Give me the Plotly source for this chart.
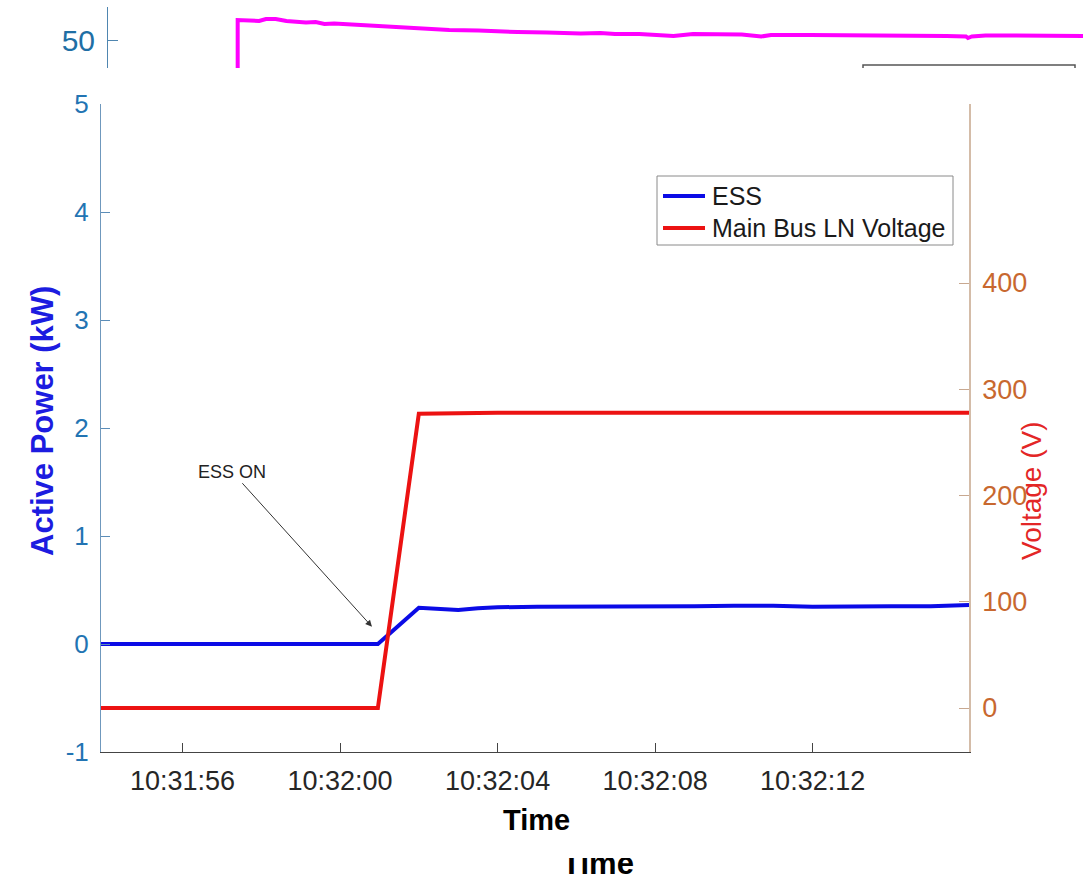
import plotly.graph_objects as go

DAY = "2023-01-01 "
W, H = 1083, 880

# ---------------- main chart data ----------------
ess_time = ["10:31:53.93", "10:32:00.96", "10:32:02.00", "10:32:03.00", "10:32:03.50",
            "10:32:04.00", "10:32:05.00", "10:32:06.00", "10:32:07.00", "10:32:08.00",
            "10:32:09.00", "10:32:10.00", "10:32:11.00", "10:32:12.00", "10:32:13.00",
            "10:32:14.00", "10:32:15.00", "10:32:15.97"]
ess_kw = [0.0, 0.0, 0.335, 0.315, 0.33, 0.34, 0.345, 0.345, 0.345, 0.35,
          0.35, 0.355, 0.355, 0.345, 0.35, 0.35, 0.35, 0.36]

volt_time = ["10:31:53.93", "10:32:00.96", "10:32:02.00", "10:32:04.00", "10:32:08.00",
             "10:32:12.00", "10:32:15.97"]
volt_v = [0.0, 0.0, 277.0, 278.0, 278.0, 278.0, 278.0]

series_names = ["ESS", "Main Bus LN Voltage"]
series_colors = ["#0b0be6", "#ec1212"]

x_ticks = ["10:31:56", "10:32:00", "10:32:04", "10:32:08", "10:32:12"]
y_left_ticks = [-1, 0, 1, 2, 3, 4, 5]
y_left_text = ["-1", "0", "1", "2", "3", "4", "5"]
y_right_ticks = [0, 100, 200, 300, 400]

annot_time = "10:32:00.81"
annot_kw = 0.16

# ---------------- inset (cropped top strip) data ----------------
inset_x = [0.0, 13.3, 13.3, 13.6, 14.5, 15.5, 16.2, 17.2, 18.3, 19.3, 20.3, 21.3,
           22.2, 23.2, 25.0, 26.0, 27.0, 29.0, 30.5, 32.0, 35.0, 38.0, 40.0, 42.0,
           45.0, 48.5, 50.5, 52.0, 54.5, 56.0, 58.0, 60.0, 62.0, 65.0, 67.0, 68.0,
           72.0, 75.0, 78.0, 82.0, 86.0, 88.0, 88.2, 88.6, 90.0, 93.0, 97.0, 100.0]
inset_val = [40.0, 40.0, 52.0, 52.0, 51.95, 51.9, 52.1, 52.1, 51.9, 51.8, 51.75, 51.8,
             51.6, 51.65, 51.55, 51.45, 51.35, 51.25, 51.15, 51.1, 51.0, 50.95, 50.85, 50.8,
             50.75, 50.65, 50.7, 50.6, 50.6, 50.55, 50.4, 50.6, 50.55, 50.55, 50.35, 50.5,
             50.5, 50.5, 50.45, 50.45, 50.4, 50.35, 50.2, 50.35, 50.45, 50.45, 50.45, 50.4]
inset_ticks = [50]

FONT = "Liberation Sans, Arial, sans-serif"


def px_x(p):
    return p / W


def px_y(p):
    return (H - p) / H


fig = go.Figure()

fig.add_trace(go.Scatter(x=[DAY + t for t in ess_time], y=ess_kw, name=series_names[0],
                         mode="lines", line=dict(color=series_colors[0], width=4),
                         xaxis="x", yaxis="y", showlegend=False))
fig.add_trace(go.Scatter(x=[DAY + t for t in volt_time], y=volt_v, name=series_names[1],
                         mode="lines", line=dict(color=series_colors[1], width=4),
                         xaxis="x", yaxis="y2", showlegend=False))

fig.add_trace(go.Scatter(x=inset_x, y=inset_val, mode="lines", showlegend=False,
                         line=dict(color="#ff00ff", width=4), xaxis="x2", yaxis="y3",
                         hoverinfo="skip"))

# clipped lower "Time" label from the underlying figure
fig.add_trace(go.Scatter(x=[598], y=[866], mode="text", text=["<b>Time</b>"],
                         textfont=dict(family=FONT, size=31, color="#000000"),
                         showlegend=False, cliponaxis=True, xaxis="x3", yaxis="y4",
                         hoverinfo="skip"))

fig.update_layout(
    template="none",
    width=W, height=H,
    margin=dict(l=0, r=0, t=0, b=0, pad=0),
    paper_bgcolor="white", plot_bgcolor="rgba(0,0,0,0)",
    font=dict(family=FONT),
    showlegend=False,
    xaxis=dict(
        type="date", automargin=False,
        domain=[px_x(101), px_x(969)],
        range=[DAY + "10:31:53.93", DAY + "10:32:15.97"],
        tickvals=[DAY + t for t in x_ticks], ticktext=x_ticks,
        ticks="inside", ticklen=9, tickcolor="#444444", tickwidth=1,
        showline=True, linecolor="#444444", linewidth=1,
        showgrid=False, zeroline=False,
        tickfont=dict(size=27, color="#262626", family=FONT),
        ticklabelstandoff=5,
        anchor="y",
    ),
    yaxis=dict(
        automargin=False,
        domain=[px_y(752), px_y(104)],
        range=[-1, 5],
        tickvals=y_left_ticks, ticktext=y_left_text,
        ticks="inside", ticklen=9, tickcolor="#5b8db8",
        showline=True, linecolor="#6f98bd", linewidth=1,
        showgrid=False, zeroline=False,
        tickfont=dict(size=26, color="#2274b3", family=FONT),
        ticklabelstandoff=6,
        anchor="x",
    ),
    yaxis2=dict(
        automargin=False,
        overlaying="y", side="right", anchor="x",
        range=[-41.4, 568.5],
        tickvals=y_right_ticks,
        ticks="inside", ticklen=10, tickcolor="#c8a890",
        showline=True, linecolor="#d4bca8", linewidth=1.5,
        showgrid=False, zeroline=False,
        tickfont=dict(size=27, color="#c8682f", family=FONT),
        ticklabelstandoff=6,
    ),
    xaxis2=dict(domain=[px_x(108), 1.0], range=[0, 100], visible=False, anchor="y3",
                automargin=False),
    yaxis3=dict(
        automargin=False,
        domain=[px_y(68), px_y(7)], range=[47.2, 53.3], anchor="x2",
        tickvals=inset_ticks, ticks="inside", ticklen=10, tickcolor="#4f86b0",
        showline=True, linecolor="#4f86b0", linewidth=1,
        showgrid=False, zeroline=False,
        tickfont=dict(size=30, color="#1f6fa5", family=FONT),
        ticklabelstandoff=6,
    ),
    xaxis3=dict(domain=[0, 1], range=[0, W], visible=False, anchor="y4", automargin=False),
    yaxis4=dict(domain=[0, px_y(858)], range=[880, 858], visible=False, anchor="x3",
                automargin=False),
)

fig.add_annotation(
    x=DAY + annot_time, y=annot_kw, xref="x", yref="y",
    text="ESS ON", showarrow=True, ax=-140, ay=-155,
    arrowhead=2, arrowsize=1.3, arrowwidth=1, arrowcolor="#333333",
    font=dict(size=18, color="#222222", family=FONT),
)

fig.add_annotation(x=px_x(42), y=px_y(421), xref="paper", yref="paper",
                   xanchor="center", yanchor="middle",
                   text="<b>Active Power (kW)</b>", textangle=-90, showarrow=False,
                   font=dict(size=31, color="#1c1ce0", family=FONT))
fig.add_annotation(x=px_x(1031), y=px_y(491), xref="paper", yref="paper",
                   xanchor="center", yanchor="middle",
                   text="Voltage (V)", textangle=-90, showarrow=False,
                   font=dict(size=28, color="#e32626", family=FONT))
fig.add_annotation(x=px_x(536), y=px_y(820), xref="paper", yref="paper",
                   xanchor="center", yanchor="middle",
                   text="<b>Time</b>", showarrow=False,
                   font=dict(size=29, color="#000000", family=FONT))

# legend (drawn in paper coordinates)
fig.add_shape(type="rect", xref="paper", yref="paper",
              x0=px_x(657), x1=px_x(953), y0=px_y(245), y1=px_y(176),
              line=dict(color="#8a8a8a", width=1), fillcolor="white")
legend_rows = [196, 228]
for name, color, row in zip(series_names, series_colors, legend_rows):
    fig.add_shape(type="line", xref="paper", yref="paper",
                  x0=px_x(663), x1=px_x(705), y0=px_y(row), y1=px_y(row),
                  line=dict(color=color, width=4))
    fig.add_annotation(x=px_x(710), y=px_y(row), xref="paper", yref="paper",
                       text=name, showarrow=False, xanchor="left", yanchor="middle",
                       font=dict(size=25, color="#1a1a1a", family=FONT))

# fragment of a legend box from the underlying figure
fig.add_shape(type="path", xref="paper", yref="paper",
              path=f"M {px_x(863)},{px_y(68)} L {px_x(863)},{px_y(65)} L {px_x(1075)},{px_y(65)} L {px_x(1075)},{px_y(68)}",
              line=dict(color="#555555", width=1.5))

fig.write_html("out.html", config={"displayModeBar": False},
               post_script="document.body.style.margin='0';document.body.style.overflow='hidden';")
